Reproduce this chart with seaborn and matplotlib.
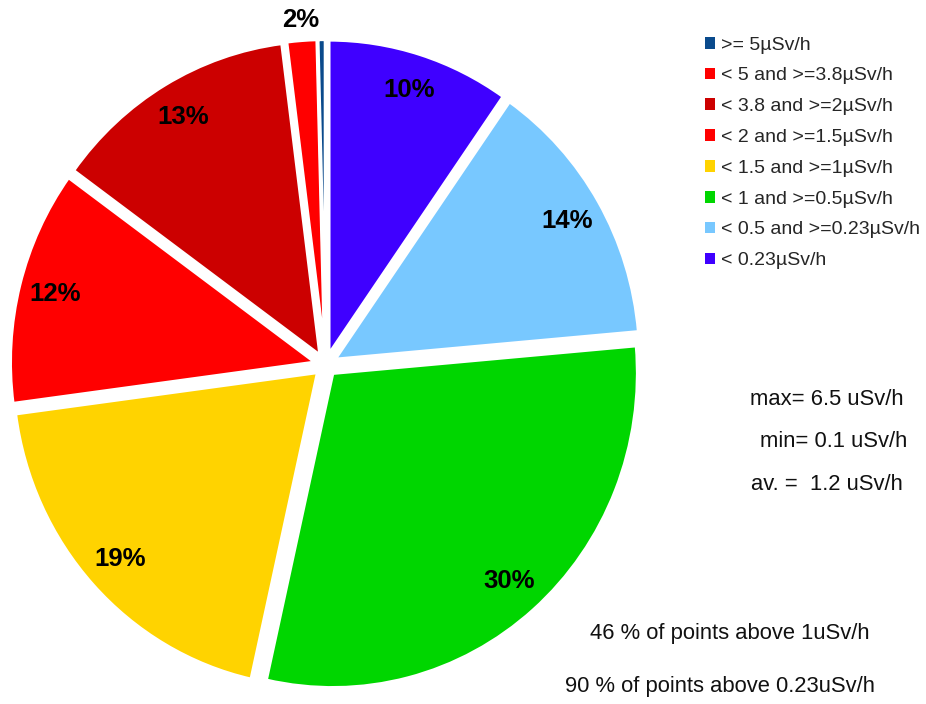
import matplotlib
matplotlib.use("Agg")
import matplotlib.pyplot as plt
import seaborn as sns

sns.set_theme(style="white")
plt.rcParams['font.family'] = ['Liberation Sans', 'DejaVu Sans']

# Data (clockwise from 12 o'clock)
categories = ["< 0.23µSv/h", "< 0.5 and >=0.23µSv/h", "< 1 and >=0.5µSv/h",
              "< 1.5 and >=1µSv/h", "< 2 and >=1.5µSv/h", "< 3.8 and >=2µSv/h",
              "< 5 and >=3.8µSv/h", ">= 5µSv/h"]
shares = [9.7, 13.9, 29.9, 19.4, 12.1, 13.0, 1.6, 0.4]
pct_labels = ["10%", "14%", "30%", "19%", "12%", "13%", "", ""]
outer_labels = ["", "", "", "", "", "", "2%", ""]
colors = ["#3f00ff", "#78c8ff", "#00d600", "#ffd300", "#ff0000", "#cc0000",
          "#ff0000", "#0a4a8c"]
stats_lines = ["max= 6.5 uSv/h", "min= 0.1 uSv/h", "av. =  1.2 uSv/h"]
above_lines = ["46 % of points above 1uSv/h", "90 % of points above 0.23uSv/h"]

fig = plt.figure(figsize=(9.26, 7.04), dpi=100)
ax = fig.add_axes([-0.0107, -0.0099, 0.7246, 0.983])

pct_iter = iter(pct_labels)
wedges, texts, autotexts = ax.pie(
    shares, colors=colors, startangle=90, counterclock=False,
    explode=[0.035] * len(shares), labels=outer_labels, labeldistance=1.065,
    autopct=lambda p: next(pct_iter), pctdistance=0.88,
    wedgeprops=dict(edgecolor="white", linewidth=2.5),
    textprops=dict(fontsize=18.5, fontweight="bold", color="black"))
for t in texts:
    t.set_ha("center")
    t.set_va("center")
ax.set_aspect("auto")
ax.set_xlim(-1.1, 1.1)
ax.set_ylim(-1.1, 1.1)

leg = fig.legend(wedges[::-1], categories[::-1], loc="upper left",
                 bbox_to_anchor=(0.761, 0.948), frameon=False,
                 fontsize=14, handlelength=0.55, handleheight=0.55,
                 handletextpad=0.3, labelspacing=0.71, borderaxespad=0,
                 borderpad=0)
for h in leg.legend_handles:
    h.set_edgecolor("none")

stat_x = [0.893, 0.9, 0.893]
stat_y = [0.432, 0.373, 0.312]
for s, x, y in zip(stats_lines, stat_x, stat_y):
    fig.text(x, y, s, ha="center", va="center", fontsize=15.8, color="#111111")

above_x = [0.788, 0.778]
above_y = [0.1, 0.025]
for s, x, y in zip(above_lines, above_x, above_y):
    fig.text(x, y, s, ha="center", va="center", fontsize=15.8, color="#111111")

fig.savefig("out.png", dpi=100, facecolor="white")
